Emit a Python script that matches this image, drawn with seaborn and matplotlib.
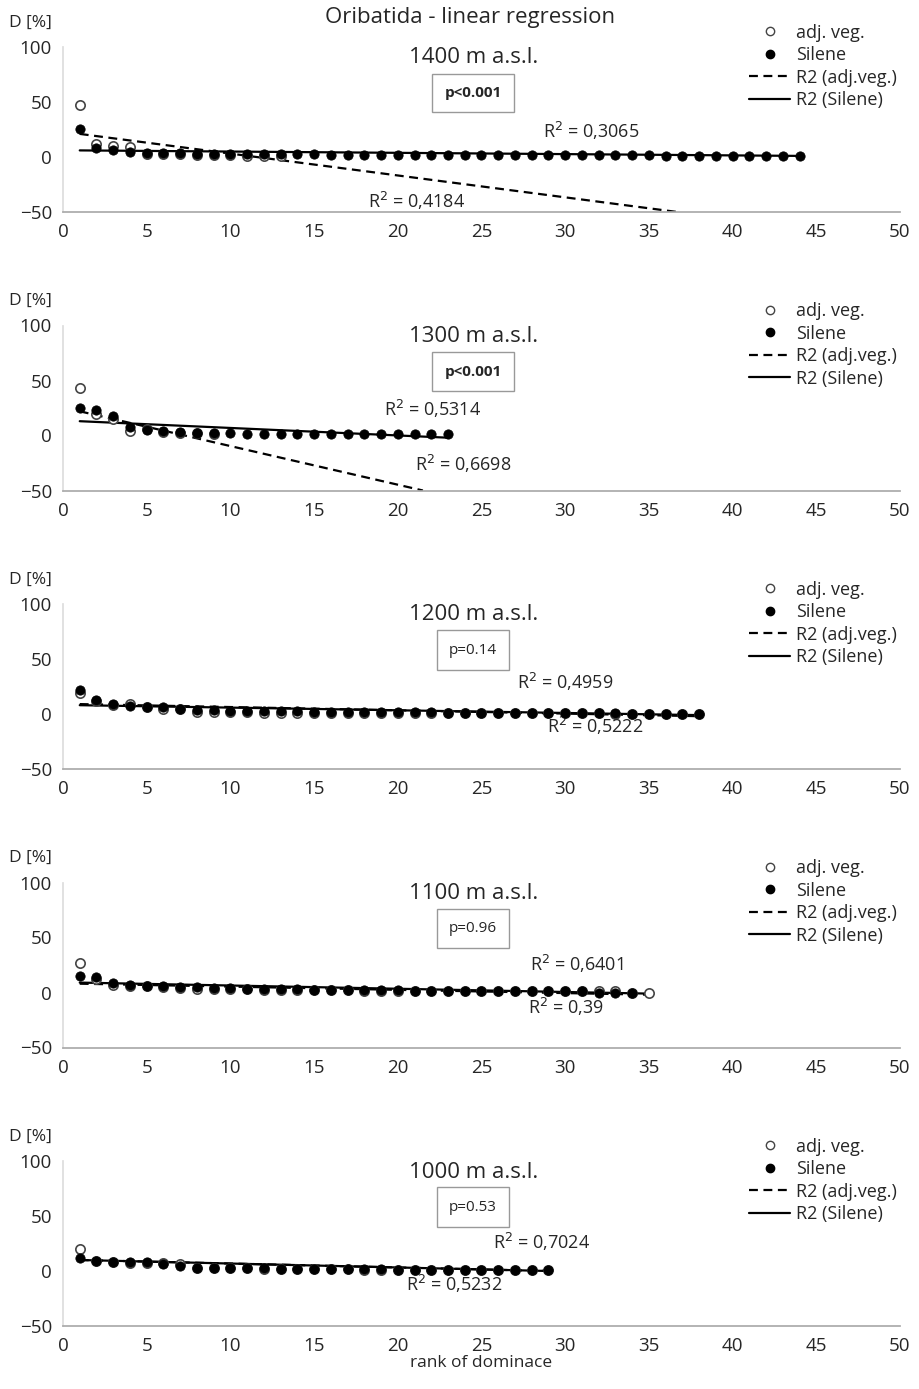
import numpy as np
import pandas as pd
import matplotlib
matplotlib.use('Agg')
import matplotlib.pyplot as plt
import seaborn as sns
from matplotlib.lines import Line2D

sns.set_theme(style='white')
plt.rcParams['font.family'] = ['Open Sans', 'DejaVu Sans']

altitudes = ['1400 m a.s.l.', '1300 m a.s.l.', '1200 m a.s.l.', '1100 m a.s.l.', '1000 m a.s.l.']
p_labels = ['p<0.001', 'p<0.001', 'p=0.14', 'p=0.96', 'p=0.53']
p_bold = [True, True, False, False, False]

silene = [
    [25, 8, 6, 5, 4, 4, 4, 3, 3, 3, 3, 3, 3, 3, 3, 2, 2, 2, 2, 2, 2, 2, 2, 2, 2, 2, 2, 2, 2,
     2, 2, 2, 2, 2, 2, 1, 1, 1, 1, 1, 1, 1, 1, 1],
    [25, 23, 18, 8, 5, 4, 3, 2, 2, 2, 1, 1, 1, 1, 1, 1, 1, 1, 1, 1, 1, 1, 1],
    [22, 13, 9, 7, 6, 6, 5, 4, 4, 3, 3, 3, 3, 3, 2, 2, 2, 2, 2, 2, 2, 2, 1, 1, 1, 1, 1, 1,
     1, 1, 1, 1, 1, 0, 0, 0, 0, 0],
    [15, 14, 9, 7, 6, 6, 5, 5, 4, 4, 3, 3, 3, 3, 2, 2, 2, 2, 2, 2, 1, 1, 1, 1, 1, 1, 1, 1,
     1, 1, 1, 0, 0, 0],
    [12, 9, 8, 8, 8, 6, 5, 3, 3, 3, 3, 3, 2, 2, 2, 2, 2, 2, 2, 1, 1, 1, 1, 1, 1, 1, 1, 1, 1],
]
adjveg = [
    [47, 12, 10, 9, 3, 3, 3, 2, 2, 2, 1, 1, 1],
    [43, 20, 15, 4, 6, 3, 2, 2, 1],
    [19, 12, 8, 9, 6, 5, 5, 2, 2, 2, 2, 1, 1, 1, 1, 1, 1, 1, 1, 1, 1, 1, 1, 1, 1, 1, 1, 1,
     1, 1, 1, 1, 0, 0, 0, 0, 0, 0],
    [27, 12, 7, 6, 6, 5, 4, 3, 3, 3, 3, 2, 2, 2, 2, 2, 2, 1, 1, 1, 1, 1, 1, 1, 1, 1, 1, 1,
     1, 1, 1, 1, 1, 0, 0],
    [20, 9, 8, 7, 7, 7, 6, 3, 3, 3, 3, 2, 2, 2, 2, 2, 2, 1, 1, 1, 1, 1, 1, 1, 1, 1, 1, 1, 1],
]
# trend lines: (x_start, x_end, y_start, y_end)
trend_adj = [(1, 36.7, 21, -50), (1, 21.5, 22, -50), (1, 38, 9, -2), (1, 35, 8, -2), (1, 29, 10, 0)]
trend_sil = [(1, 44, 6, 1), (1, 23, 13, -2), (1, 38, 8, -1), (1, 35, 9, -1), (1, 29, 10, 0)]
r2_sil = ['R$^2$ = 0,3065', 'R$^2$ = 0,5314', 'R$^2$ = 0,4959', 'R$^2$ = 0,6401', 'R$^2$ = 0,7024']
r2_adj = ['R$^2$ = 0,4184', 'R$^2$ = 0,6698', 'R$^2$ = 0,5222', 'R$^2$ = 0,39', 'R$^2$ = 0,5232']
r2_sil_pos = [(28.7, 24), (19.2, 24), (27.1, 29), (27.9, 26), (25.7, 26)]
r2_adj_pos = [(18.2, -40), (21.0, -26), (28.9, -11), (27.8, -13), (20.5, -12)]

W, H = 920, 1389
fig = plt.figure(figsize=(W / 100, H / 100), dpi=100)

for i in range(5):
    top = 47 + i * 278.5
    ax = fig.add_axes([63 / W, 1 - (top + 165) / H, 837 / W, 165 / H])
    ds = pd.DataFrame({'x': np.arange(1, len(silene[i]) + 1), 'y': silene[i]})
    da = pd.DataFrame({'x': np.arange(1, len(adjveg[i]) + 1), 'y': adjveg[i]})
    ta = trend_adj[i]
    ts = trend_sil[i]
    sns.lineplot(x=[ta[0], ta[1]], y=[ta[2], ta[3]], ax=ax, color='black', lw=1.6,
                 linestyle=(0, (4, 2.5)), zorder=2)
    sns.lineplot(x=[ts[0], ts[1]], y=[ts[2], ts[3]], ax=ax, color='black', lw=1.6, zorder=2)
    sns.scatterplot(data=da, x='x', y='y', ax=ax, marker='o', s=45, facecolor='white',
                    edgecolor='#444444', linewidth=1.2, zorder=3)
    sns.scatterplot(data=ds, x='x', y='y', ax=ax, marker='o', s=45, color='black',
                    edgecolor='black', zorder=4)
    ax.set_xlim(0, 50)
    ax.set_ylim(-50, 100)
    ax.set_xticks(range(0, 51, 5))
    ax.set_yticks([-50, 0, 50, 100])
    ax.tick_params(labelsize=13.5, length=0, pad=8)
    ax.set_xlabel('')
    ax.set_ylabel('')
    for s in ['top', 'right']:
        ax.spines[s].set_visible(False)
    ax.spines['left'].set_color('#dddddd')
    ax.spines['bottom'].set_color('#aaaaaa')
    ax.text(-0.065, 1.1, 'D [%]', transform=ax.transAxes, fontsize=12.5,
            ha='left', va='bottom')
    ax.text(24.5, 90, altitudes[i], fontsize=16, ha='center', va='center')
    ax.text(24.5, 58, p_labels[i], fontsize=11, ha='center', va='center',
            fontweight='bold' if p_bold[i] else 'normal',
            bbox=dict(boxstyle='square,pad=0.8', fc='white', ec='#999999', lw=1))
    ax.text(*r2_sil_pos[i], r2_sil[i], fontsize=13, ha='left', va='center')
    ax.text(*r2_adj_pos[i], r2_adj[i], fontsize=13, ha='left', va='center')
    handles = [
        Line2D([], [], marker='o', ls='', mfc='white', mec='#444444', ms=6, label='adj. veg.'),
        Line2D([], [], marker='o', ls='', color='black', ms=6, label='Silene'),
        Line2D([], [], color='black', ls=(0, (4, 2.5)), lw=1.6, label='R2 (adj.veg.)'),
        Line2D([], [], color='black', lw=1.6, label='R2 (Silene)'),
    ]
    ax.legend(handles=handles, loc='upper left', bbox_to_anchor=(0.8, 1.24), frameon=False,
              fontsize=13, handlelength=2.3, handletextpad=0.3, labelspacing=0.25)
    if i == 4:
        ax.set_xlabel('rank of dominace', fontsize=12.5, labelpad=0)

fig.text(470 / W, 1 - 18 / H, 'Oribatida - linear regression', fontsize=16, ha='center', va='center')
fig.savefig('out.png', dpi=100)
